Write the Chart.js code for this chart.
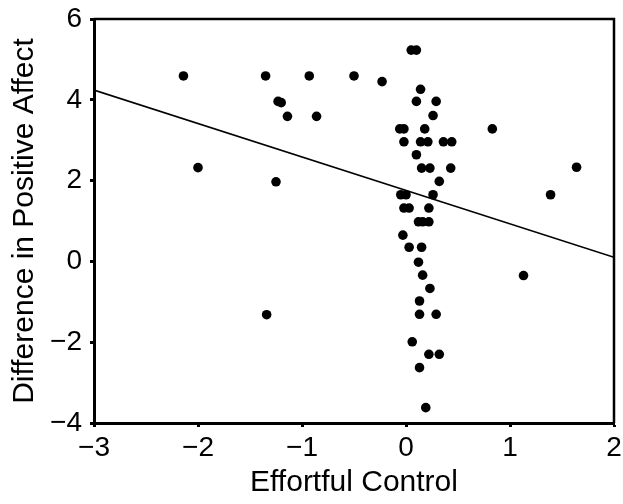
<!DOCTYPE html>
<html>
<head>
<meta charset="utf-8">
<script src="https://cdn.jsdelivr.net/npm/chart.js@4/dist/chart.umd.min.js"></script>
<style>
  html, body { margin: 0; padding: 0; background: #fff; }
  #wrap { width: 623px; height: 504px; }
</style>
</head>
<body>
<div id="wrap"><canvas id="scatterChart" width="623" height="504"></canvas></div>
<script>
// effortful control (x) vs difference in positive affect (y)
const effortX = [-2.14, -1.35, -0.93, -0.50, -1.23, -1.20, -1.14, -0.86, -2.00, -1.25, -1.34,
    0.05, 0.10, -0.23, 0.14, 0.10, 0.29, 0.26, -0.06, -0.02, 0.18, 0.83,
    -0.02, 0.14, 0.21, 0.36, 0.44, 0.10, 0.15, 0.23, 0.43, 1.64, 0.32,
    -0.05, 0.00, 0.26, 1.39, -0.02, 0.03, 0.22, 0.12, 0.16, 0.22, -0.03,
    0.03, 0.15, 0.12, 0.16, 1.13, 0.23, 0.13, 0.13, 0.29, 0.06, 0.22, 0.32, 0.13, 0.19];
const affectY = [4.59, 4.59, 4.59, 4.59, 3.96, 3.93, 3.59, 3.59, 2.32, 1.97, -1.32,
    5.23, 5.23, 4.45, 4.26, 3.96, 3.96, 3.61, 3.28, 3.28, 3.28, 3.28,
    2.96, 2.96, 2.96, 2.96, 2.96, 2.64, 2.31, 2.31, 2.31, 2.33, 1.98,
    1.65, 1.65, 1.65, 1.65, 1.32, 1.32, 1.32, 0.98, 0.98, 0.98, 0.65,
    0.35, 0.35, -0.02, -0.34, -0.35, -0.67, -0.98, -1.31, -1.31, -1.99, -2.30, -2.30, -2.63, -3.62];
const fitX = [-3, 2];
const fitY = [4.24, 0.10];
const xTicks = [-3, -2, -1, 0, 1, 2];
const yTicks = [-4, -2, 0, 2, 4, 6];

const font = "'Liberation Sans', Arial, sans-serif";
const fmt = v => (v < 0 ? "\u2212" + Math.abs(v) : String(v));

const points = effortX.map((x, i) => ({ x: x, y: affectY[i] }));
const fitLine = fitX.map((x, i) => ({ x: x, y: fitY[i] }));

// top and right edges of the box
const frame = {
    id: "frame",
    afterDatasetsDraw(chart) {
        const a = chart.chartArea;
        const c = chart.ctx;
        c.save();
        c.strokeStyle = "#000";
        c.lineWidth = 2.5;
        c.beginPath();
        c.moveTo(a.left, a.top);
        c.lineTo(a.right, a.top);
        c.lineTo(a.right, a.bottom);
        c.stroke();
        c.restore();
    }
};

new Chart(document.getElementById("scatterChart"), {
    type: "scatter",
    data: {
        datasets: [{
            data: points,
            pointRadius: 4.8,
            pointHoverRadius: 4.8,
            backgroundColor: "#000",
            borderColor: "#000",
            borderWidth: 0
        }, {
            type: "line",
            data: fitLine,
            borderColor: "#000",
            borderWidth: 1.6,
            pointRadius: 0,
            fill: false
        }]
    },
    options: {
        responsive: false,
        animation: false,
        layout: { padding: { top: 19, right: 9, left: 0, bottom: 0 } },
        plugins: { legend: { display: false }, tooltip: { enabled: false } },
        scales: {
            x: {
                type: "linear",
                min: -3, max: 2,
                afterBuildTicks: s => { s.ticks = xTicks.map(v => ({ value: v })); },
                afterFit: s => { s.height = 81; s.paddingLeft = 0; s.paddingRight = 0; },
                border: { color: "#000", width: 3 },
                grid: { drawOnChartArea: false, drawTicks: true, tickLength: 4, tickColor: "#000", tickWidth: 3 },
                ticks: { color: "#000", font: { family: font, size: 28 }, padding: 4, callback: fmt, maxRotation: 0 },
                title: { display: true, text: "Effortful Control", color: "#000", font: { family: font, size: 30 }, padding: { top: 0, bottom: 3 } }
            },
            y: {
                type: "linear",
                min: -4, max: 6,
                afterBuildTicks: s => { s.ticks = yTicks.map(v => ({ value: v })); },
                afterFit: s => { s.width = 94; s.paddingTop = 0; s.paddingBottom = 0; },
                border: { color: "#000", width: 3 },
                grid: { drawOnChartArea: false, drawTicks: true, tickLength: 4, tickColor: "#000", tickWidth: 3 },
                ticks: { color: "#000", font: { family: font, size: 28 }, padding: 8, callback: fmt },
                title: { display: true, text: "Difference in Positive Affect", color: "#000", font: { family: font, size: 30 }, padding: { top: 7, bottom: 0 } }
            }
        }
    },
    plugins: [frame]
});
</script>
</body>
</html>
